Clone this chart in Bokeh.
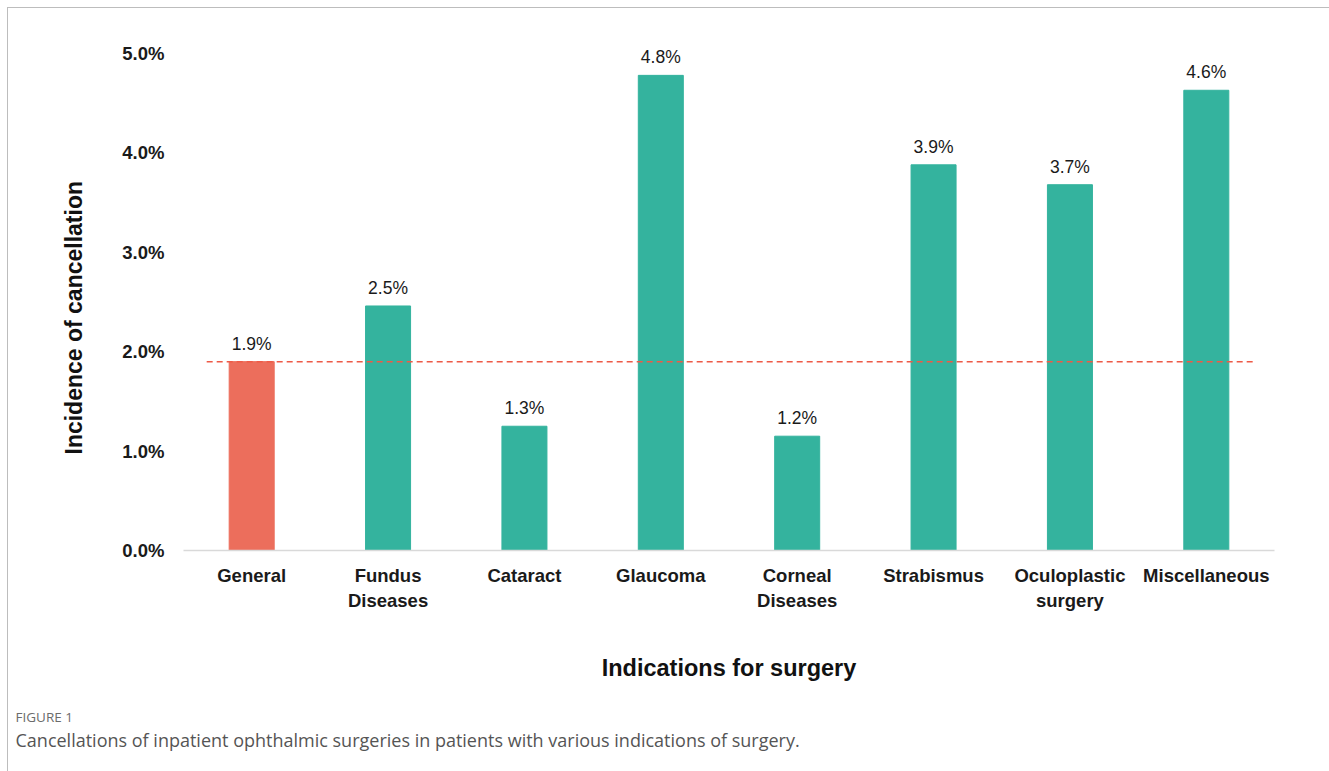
from bokeh.plotting import figure
from bokeh.models import ColumnDataSource, FactorRange, Range1d, FixedTicker, Title, LabelSet
from bokeh.core.properties import value
from bokeh.transform import dodge
from bokeh.embed import file_html
from bokeh.resources import INLINE

categories = ["General", "Fundus\nDiseases", "Cataract", "Glaucoma", "Corneal\nDiseases",
              "Strabismus", "Oculoplastic\nsurgery", "Miscellaneous"]
values = [1.9, 2.46, 1.25, 4.78, 1.15, 3.88, 3.68, 4.63]
value_labels = ["1.9%", "2.5%", "1.3%", "4.8%", "1.2%", "3.9%", "3.7%", "4.6%"]
bar_colors = ["#ec6e5c"] + ["#34b39e"] * 7
reference_value = 1.9
y_ticks = [0, 1, 2, 3, 4, 5]
y_tick_labels = ["0.0%", "1.0%", "2.0%", "3.0%", "4.0%", "5.0%"]
y_max = 5.342

FONT = "Liberation Sans"

p = figure(width=1322, height=764, x_range=FactorRange(*categories, range_padding=0),
           y_range=Range1d(0, y_max), output_backend="svg", toolbar_location=None,
           min_border_left=175, min_border_right=56, min_border_top=11, min_border_bottom=222)
p.styles = {"border-left": "1px solid #bdbdbd", "border-top": "1px solid #bdbdbd",
            "margin-left": "7px", "margin-top": "7px"}
p.outline_line_color = None
p.xgrid.grid_line_color = None
p.ygrid.grid_line_color = None

src = ColumnDataSource(dict(x=categories, top=values, color=bar_colors, label=value_labels))
p.vbar(x="x", top="top", width=0.33, color="color", source=src)

labels = LabelSet(x="x", y="top", text="label", source=src, text_align="center",
                  text_baseline="bottom", y_offset=8, text_font=value(FONT),
                  text_font_size=value("17.5px"), text_color="#1a1a1a")
p.add_layout(labels)

line_src = ColumnDataSource(dict(x0=[categories[0]], x1=[categories[-1]],
                                 y0=[reference_value], y1=[reference_value]))
p.segment(x0=dodge("x0", -0.33, range=p.x_range), x1=dodge("x1", 0.34, range=p.x_range),
          y0="y0", y1="y1", source=line_src, line_color="#ee5a47",
          line_width=1.5, line_dash="6 4")

p.yaxis.ticker = FixedTicker(ticks=y_ticks)
p.yaxis.major_label_overrides = {t: l for t, l in zip(y_ticks, y_tick_labels)}
p.yaxis.axis_line_color = None
p.yaxis.major_tick_line_color = None
p.yaxis.minor_tick_line_color = None
p.yaxis.major_label_standoff = 13
p.yaxis.major_label_text_font = FONT
p.yaxis.major_label_text_font_style = "bold"
p.yaxis.major_label_text_font_size = "18.5px"
p.yaxis.major_label_text_color = "#1a1a1a"

ytitle = Title(text="Incidence of cancellation", align="left", text_font=FONT,
               text_font_style="bold", text_font_size="23px", text_color="#111111",
               offset=96, standoff=66)
p.add_layout(ytitle, "left")

p.xaxis.axis_line_color = "#d9d9d9"
p.xaxis.axis_line_width = 1.5
p.xaxis.major_tick_line_color = None
p.xaxis.minor_tick_line_color = None
p.xaxis.major_label_standoff = 8
p.xaxis.major_label_text_font = FONT
p.xaxis.major_label_text_font_style = "bold"
p.xaxis.major_label_text_font_size = "18.5px"
p.xaxis.major_label_text_color = "#1a1a1a"
p.xaxis.axis_label = "Indications for surgery"
p.xaxis.axis_label_text_font = FONT
p.xaxis.axis_label_text_font_style = "bold"
p.xaxis.axis_label_text_font_size = "23.5px"
p.xaxis.axis_label_text_color = "#111111"
p.xaxis.axis_label_standoff = 41

spacer = Title(text=" ", text_font_size="1px", standoff=19, text_color="white")
t1 = Title(text="FIGURE 1", align="left", text_font="Open Sans", text_font_size="13.5px",
           text_font_style="normal", text_color="#6b6b6b", offset=-168, standoff=0)
t2 = Title(text="Cancellations of inpatient ophthalmic surgeries in patients with various indications of surgery.",
           align="left", text_font="Open Sans", text_font_size="18px", text_font_style="normal",
           text_color="#555555", offset=-168, standoff=0)
p.add_layout(spacer, "below")
p.add_layout(t1, "below")
p.add_layout(t2, "below")

open("out.html", "w").write(file_html(p, INLINE))
